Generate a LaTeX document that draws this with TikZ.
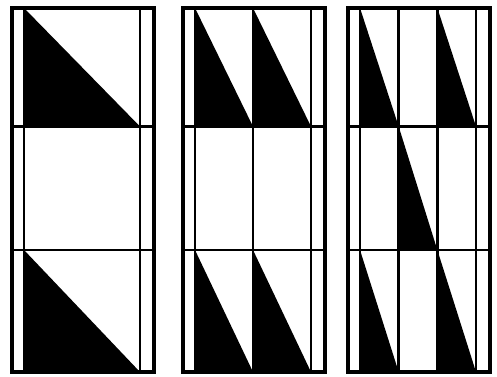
\documentclass[tikz,border=0pt]{standalone}
\usepackage{tikz}
\tikzset{
  frame/.style ={draw=black,line width=3.2pt},
  rule/.style  ={draw=black,line width=2.4pt},
  wedge/.style ={fill=black},
}

\begin{document}
\begin{tikzpicture}[x=1pt, y=-1pt]
\useasboundingbox (0,0) rectangle (497,376);

%% black wedges: panel left / columns / row / column
\foreach \px/\n/\r/\c in {12/1/0/0, 12/1/2/0,
                          183/2/0/0, 183/2/0/1, 183/2/2/0, 183/2/2/1,
                          348/3/0/0, 348/3/0/2, 348/3/1/1, 348/3/2/0, 348/3/2/2}{
  \pgfmathsetmacro\ya{{8,126.5,250,372}[\r]}
  \pgfmathsetmacro\yb{{8,126.5,250,372}[\r+1]}
  \pgfmathsetmacro\xa{\px+12+\c*116/\n}
  \pgfmathsetmacro\xb{\px+12+(\c+1)*116/\n}
  \fill[wedge] (\xa,\ya) -- (\xa,\yb) -- (\xb,\yb) -- cycle;
}

%% frames, side strips and cell rules
\foreach \px/\n in {12/1, 183/2, 348/3}{
  \draw[rule] (\px,126.5) -- ++(142,0);
  \draw[rule] (\px,250) -- ++(142,0);
  \draw[rule] (\px+12,8) -- (\px+12,372);
  \draw[rule] (\px+128,8) -- (\px+128,372);
  \ifnum\n>1
    \foreach \k in {2,...,\n}{
      \pgfmathsetmacro\xk{\px+12+(\k-1)*116/\n}
      \draw[rule] (\xk,8) -- (\xk,372);
    }
  \fi
  \draw[frame] (\px,8) rectangle ++(142,364);
}

\end{tikzpicture}
\end{document}
